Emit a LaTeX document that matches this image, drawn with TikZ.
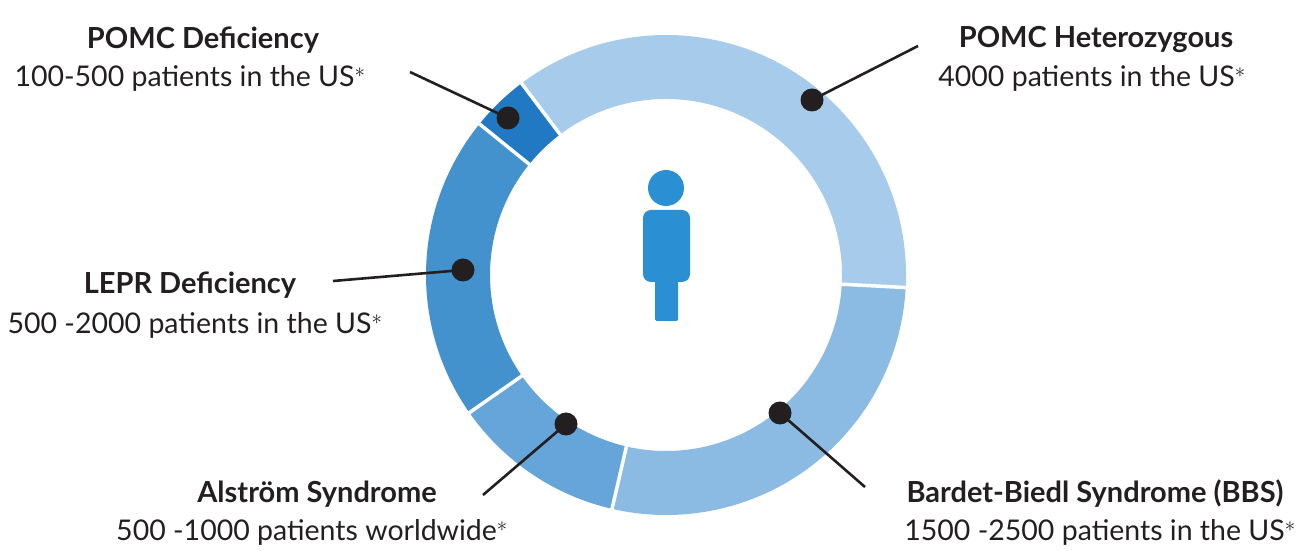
\documentclass[tikz,border=0pt]{standalone}
\usepackage{fontspec}
\setmainfont{Lato}
\definecolor{ink}{HTML}{231F20}
\definecolor{cA}{HTML}{A7CBEA}
\definecolor{cB}{HTML}{8BBBE3}
\definecolor{cC}{HTML}{65A5DA}
\definecolor{cD}{HTML}{4392CE}
\definecolor{cE}{HTML}{2079C2}
\definecolor{icon}{HTML}{2B8FD4}
\begin{document}
\begin{tikzpicture}[x=1pt,y=1pt,
  ttl/.style={font=\fontsize{29}{32}\selectfont\bfseries,text=ink,inner sep=0},
  sub/.style={font=\fontsize{28.5}{31}\selectfont,text=ink,inner sep=0},
  dot/.style={circle,fill=ink,minimum size=23pt,inner sep=0},
  lead/.style={ink,line width=2.6pt}]
\useasboundingbox (0,0) rectangle (1303,551);
\def\R{240}\def\r{176}
\foreach \a/\b/\c in {-3/127/cA,257/357/cB,215/257/cC,141/215/cD,127/141/cE}{
  \fill[\c,shift={(666,276)}] (\a:\R) arc[start angle=\a,end angle=\b,radius=\R] -- (\b:\r) arc[start angle=\b,end angle=\a,radius=\r] -- cycle;}
\foreach \a in {127,141,215,257,357}{
  \draw[white,line width=3.5pt,shift={(666,276)}] (\a:\r-3) -- (\a:\R+3);}
% person icon
\fill[icon] (666,363) circle (18);
\fill[icon,rounded corners=8pt] (643,269) rectangle (690,341);
\fill[icon,rounded corners=1.5pt] (655,230) rectangle (678,275);
% dots
\node[dot] (d1) at (508,433) {};
\node[dot] (d2) at (812,451) {};
\node[dot] (d3) at (463,281) {};
\node[dot] (d4) at (566,127) {};
\node[dot] (d5) at (780,138) {};
\coordinate (e1) at (410,479);
\coordinate (e2) at (918,505);
\coordinate (e3) at (333,270);
\coordinate (e4) at (483,56);
\coordinate (e5) at (865,64);
\foreach \i in {1,...,5}{\draw[lead] (e\i) -- (d\i.center);}
% labels
\node[ttl] (t1) at (203,511) {POMC Deficiency};
\node[sub] (s1) at (190,473) {100-500 patients in the US$^*$};
\node[ttl] (t2) at (1096,511) {POMC Heterozygous};
\node[sub] (s2) at (1092,473) {4000 patients in the US$^*$};
\node[ttl] (t3) at (190,266) {LEPR Deficiency};
\node[sub] (s3) at (195,226) {500 -2000 patients in the US$^*$};
\node[ttl] (t4) at (317,57) {Alström Syndrome};
\node[sub] (s4) at (312,19) {500 -1000 patients worldwide$^*$};
\node[ttl] (t5) at (1095,57) {Bardet-Biedl Syndrome (BBS)};
\node[sub] (s5) at (1100,19) {1500 -2500 patients in the US$^*$};
\end{tikzpicture}
\end{document}
